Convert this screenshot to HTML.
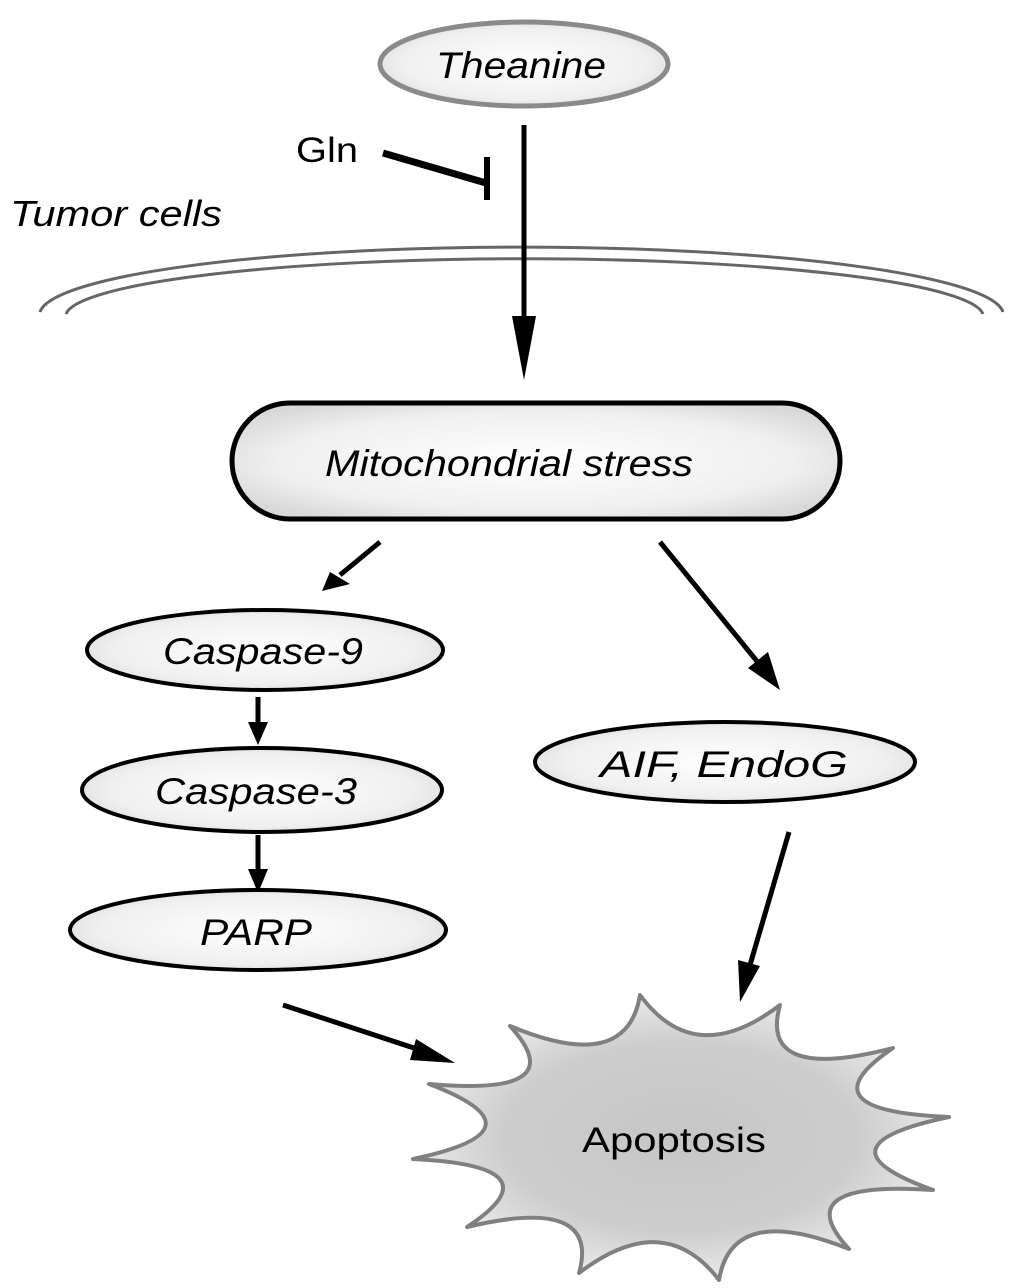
<!DOCTYPE html>
<html><head><meta charset="utf-8"><style>html,body{margin:0;padding:0;background:#fff}svg{display:block}</style></head>
<body>
<svg width="1022" height="1288" viewBox="0 0 1022 1288" xmlns="http://www.w3.org/2000/svg" font-family="Liberation Sans, sans-serif">
<defs>
<radialGradient id="g" cx="50%" cy="50%" r="60%"><stop offset="0" stop-color="#ffffff"/><stop offset="0.7" stop-color="#f0f0f0"/><stop offset="1" stop-color="#d8d8d8"/></radialGradient>
<radialGradient id="s" cx="50%" cy="50%" r="55%"><stop offset="0" stop-color="#c6c6c6"/><stop offset="0.6" stop-color="#cdcdcd"/><stop offset="1" stop-color="#f2f2f2"/></radialGradient>
</defs>

<!-- Theanine -->
<ellipse cx="524" cy="64" rx="144" ry="42" fill="url(#g)" stroke="#8a8a8a" stroke-width="5"/>
<text x="521" y="78" font-size="37" font-style="italic" text-anchor="middle" textLength="170" lengthAdjust="spacingAndGlyphs">Theanine</text>

<!-- Gln -->
<text x="296" y="162" font-size="35" textLength="62" lengthAdjust="spacingAndGlyphs">Gln</text>
<line x1="383" y1="153" x2="486" y2="183" stroke="#000" stroke-width="7"/>
<line x1="487" y1="157" x2="487" y2="200" stroke="#000" stroke-width="6"/>

<text x="10" y="226" font-size="36" font-style="italic" textLength="212" lengthAdjust="spacingAndGlyphs">Tumor cells</text>

<!-- membrane -->
<path d="M40,312 A482,68 0 0 1 1003,312" fill="none" stroke="#666" stroke-width="3"/>
<path d="M66,314 A459,58 0 0 1 983,314" fill="none" stroke="#666" stroke-width="3"/>

<!-- main arrow -->
<line x1="524" y1="125" x2="524" y2="320" stroke="#000" stroke-width="5"/>
<path d="M512,316 L536,316 L524,380 Z" fill="#000"/>

<!-- Mitochondrial stress -->
<rect x="232" y="403" width="608" height="116" rx="58" ry="58" fill="url(#g)" stroke="#000" stroke-width="5"/>
<text x="509" y="476" font-size="37" font-style="italic" text-anchor="middle" textLength="368" lengthAdjust="spacingAndGlyphs">Mitochondrial stress</text>

<!-- arrow to caspase-9 -->
<line x1="380" y1="542" x2="340" y2="575" stroke="#000" stroke-width="5"/>
<path d="M330,572 L350,584 L322,591 Z" fill="#000"/>

<!-- arrow to AIF -->
<line x1="660" y1="542" x2="760" y2="665" stroke="#000" stroke-width="5"/>
<path d="M748,668 L768,652 L780,690 Z" fill="#000"/>

<!-- ellipses -->
<ellipse cx="265" cy="650" rx="178" ry="40" fill="url(#g)" stroke="#000" stroke-width="4"/>
<text x="263" y="664" font-size="37" font-style="italic" text-anchor="middle" textLength="200" lengthAdjust="spacingAndGlyphs">Caspase-9</text>

<line x1="258" y1="697" x2="258" y2="725" stroke="#000" stroke-width="5"/>
<path d="M248,722 L268,722 L258,745 Z" fill="#000"/>

<ellipse cx="262" cy="790" rx="180" ry="42" fill="url(#g)" stroke="#000" stroke-width="4"/>
<text x="256" y="804" font-size="37" font-style="italic" text-anchor="middle" textLength="202" lengthAdjust="spacingAndGlyphs">Caspase-3</text>

<line x1="258" y1="835" x2="258" y2="872" stroke="#000" stroke-width="5"/>
<path d="M248,869 L268,869 L258,893 Z" fill="#000"/>

<ellipse cx="258" cy="930" rx="188" ry="40" fill="url(#g)" stroke="#000" stroke-width="4"/>
<text x="256" y="945" font-size="37" font-style="italic" text-anchor="middle" textLength="112" lengthAdjust="spacingAndGlyphs">PARP</text>

<ellipse cx="725" cy="762" rx="190" ry="40" fill="url(#g)" stroke="#000" stroke-width="4"/>
<text x="724" y="777" font-size="37" font-style="italic" text-anchor="middle" textLength="248" lengthAdjust="spacingAndGlyphs">AIF, EndoG</text>

<!-- arrows to apoptosis -->
<line x1="789" y1="832" x2="750" y2="965" stroke="#000" stroke-width="5"/>
<path d="M738,960 L760,966 L740,1002 Z" fill="#000"/>
<line x1="283" y1="1005" x2="420" y2="1050" stroke="#000" stroke-width="5"/>
<path d="M416,1039 L410,1060 L455,1063 Z" fill="#000"/>

<!-- starburst -->
<path d="M640,995 Q695,1070 780,1005 Q758,1083 893,1048 Q800,1111 949,1117 Q810,1146 933,1190 Q785,1180 849,1249 Q732,1202 719,1280 Q664,1208 579,1273 Q601,1195 467,1227 Q560,1166 413,1159 Q550,1130 429,1084 Q575,1097 510,1026 Q627,1075 640,995 Z" fill="url(#s)" stroke="#808080" stroke-width="4" stroke-linejoin="round"/>
<text x="674" y="1152" font-size="35" text-anchor="middle" textLength="184" lengthAdjust="spacingAndGlyphs">Apoptosis</text>
</svg>
</body></html>
